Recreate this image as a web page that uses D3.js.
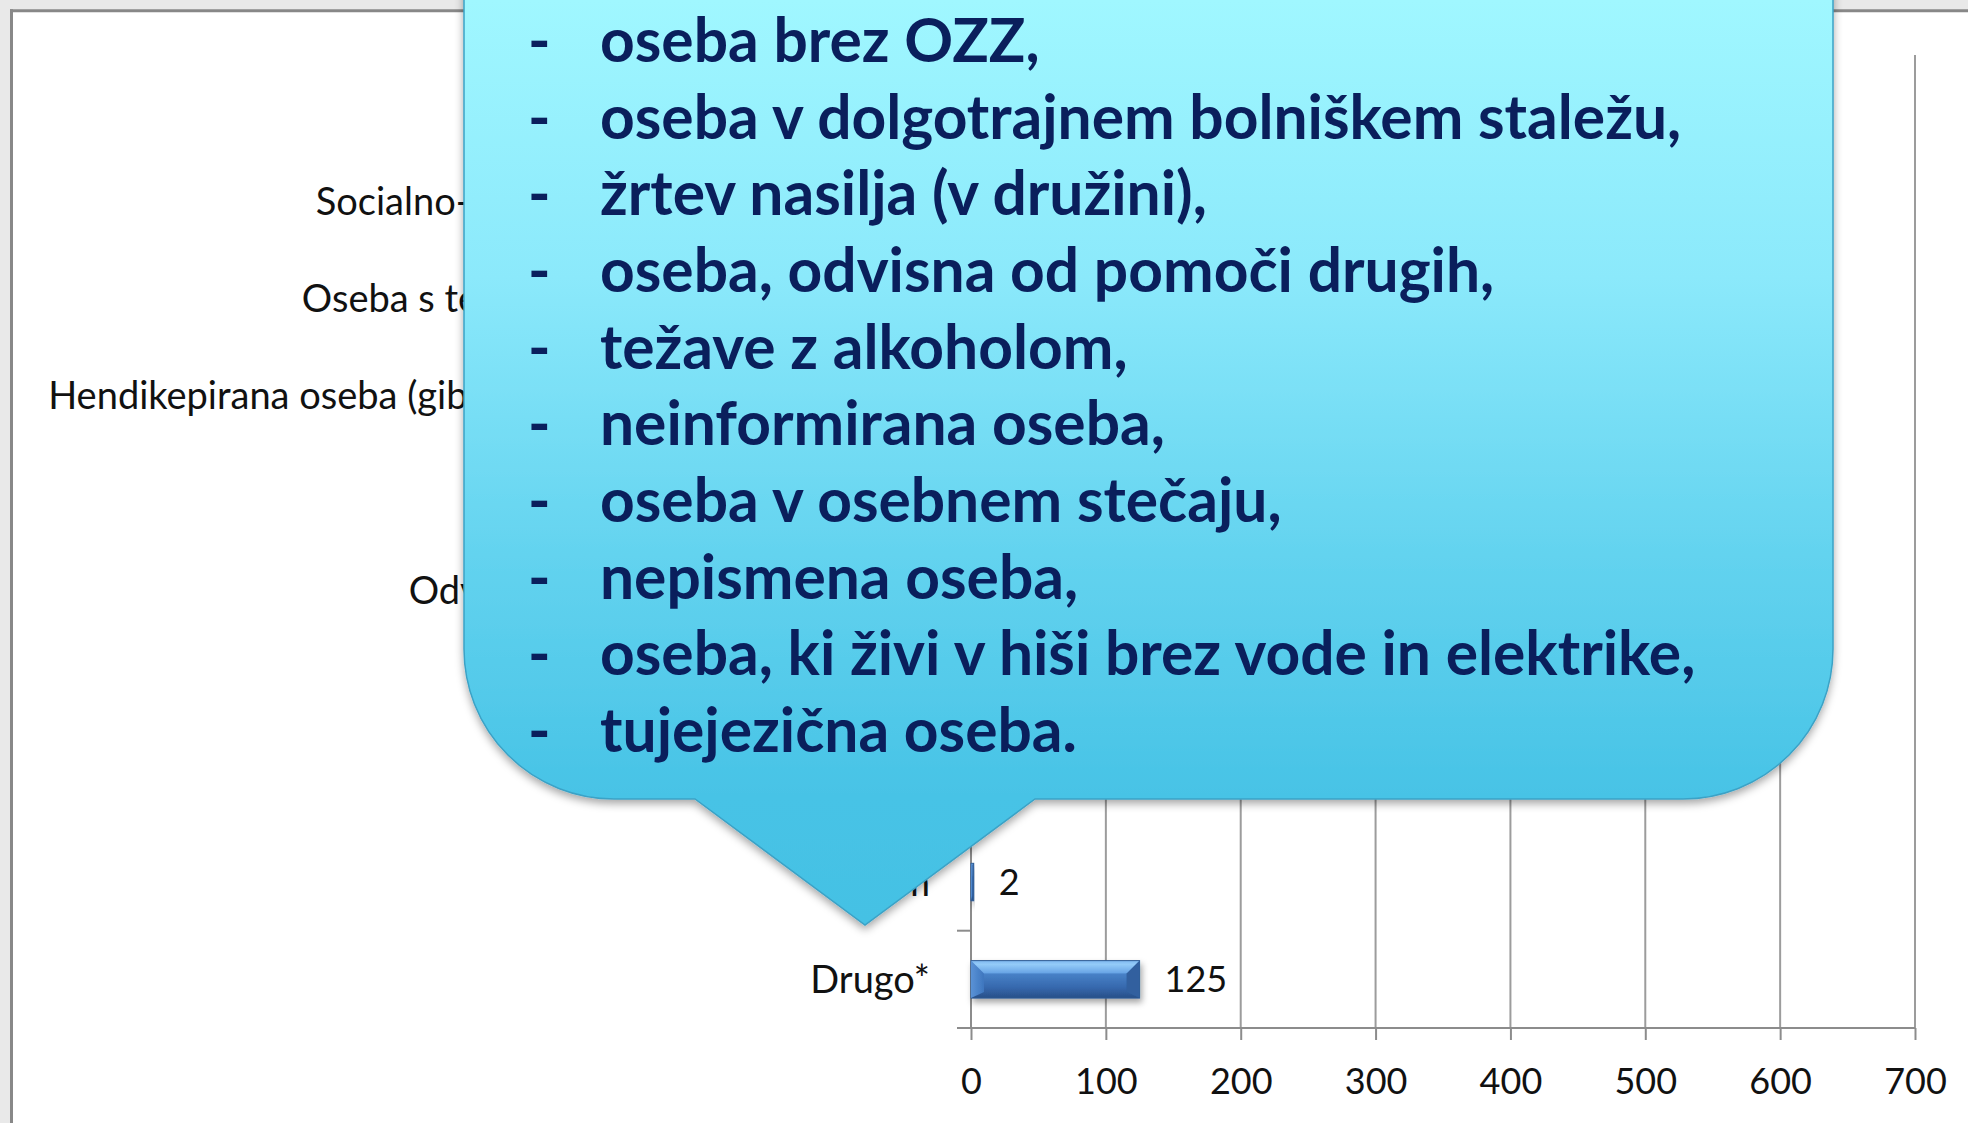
<!DOCTYPE html>
<html><head><meta charset="utf-8">
<script src="https://cdn.jsdelivr.net/npm/d3@7"></script>
<style>html,body{margin:0;padding:0;background:#fff;overflow:hidden}</style>
</head><body>
<svg id="c" width="1968" height="1123" xmlns="http://www.w3.org/2000/svg"></svg>
<script>
// ---- data ----
const categories = [
  "Brezposelna oseba",
  "Socialno-ekonomsko ogrožena oseba",
  "Oseba s težavami v duševnem zdravju",
  "Hendikepirana oseba (gibalno ovirana, slepa ali gluha)",
  "Starejša oseba",
  "Odvisnik od prepovedanih drog",
  "Enostarševska družina",
  "Brezdomec",
  "Rom",
  "Drugo*"
];
const values = [573, 412, 236, 148, 305, 57, 94, 21, 2, 125];
const xTicks = [0, 100, 200, 300, 400, 500, 600, 700];
const calloutLines = [
  "oseba brez OZZ,",
  "oseba v dolgotrajnem bolniškem staležu,",
  "žrtev nasilja (v družini),",
  "oseba, odvisna od pomoči drugih,",
  "težave z alkoholom,",
  "neinformirana oseba,",
  "oseba v osebnem stečaju,",
  "nepismena oseba,",
  "oseba, ki živi v hiši brez vode in elektrike,",
  "tujejezična oseba."
];

// ---- layout ----
const W = 1968, H = 1123;
const plot = {left: 971, right: 1915, top: 55, bottom: 1028};
const svg = d3.select("#c");
const defs = svg.append("defs");

// gradients & filters
const cg = defs.append("linearGradient").attr("id","calloutGrad")
  .attr("gradientUnits","userSpaceOnUse").attr("x1",0).attr("y1",0).attr("x2",0).attr("y2",925);
[[0,"#a0f7ff"],[0.3,"#8be9fb"],[0.6,"#63d3ef"],[0.86,"#47c3e6"],[1,"#44c1e4"]]
  .forEach(([o,c])=>cg.append("stop").attr("offset",o).attr("stop-color",c));

const bg = defs.append("linearGradient").attr("id","barGrad").attr("x1",0).attr("y1",0).attr("x2",0).attr("y2",1);
[[0,"#7fb8f0"],[0.1,"#94cbf8"],[0.32,"#6aa6e6"],[0.36,"#4781c7"],[0.72,"#3668ad"],[1,"#284f88"]]
  .forEach(([o,c])=>bg.append("stop").attr("offset",o).attr("stop-color",c));

const lg = defs.append("linearGradient").attr("id","leftGrad").attr("x1",0).attr("y1",0).attr("x2",1).attr("y2",0);
lg.append("stop").attr("offset",0).attr("stop-color","#5a92d6");
lg.append("stop").attr("offset",1).attr("stop-color","#3e76be");

const sh = defs.append("filter").attr("id","shadow").attr("x","-10%").attr("y","-10%").attr("width","130%").attr("height","140%");
sh.append("feDropShadow").attr("dx",0).attr("dy",4).attr("stdDeviation",4)
  .attr("flood-color","#000").attr("flood-opacity",0.35);
const bsh = defs.append("filter").attr("id","barShadow").attr("x","-10%").attr("y","-30%").attr("width","130%").attr("height","190%");
bsh.append("feDropShadow").attr("dx",2).attr("dy",4).attr("stdDeviation",3)
  .attr("flood-color","#000").attr("flood-opacity",0.35);

// frame
svg.append("rect").attr("x",0).attr("y",0).attr("width",W).attr("height",H).attr("fill","#e9e9e9");
svg.append("rect").attr("x",12).attr("y",12).attr("width",W-12).attr("height",H-12).attr("fill","#ffffff");
svg.append("line").attr("x1",10).attr("x2",W).attr("y1",10.8).attr("y2",10.8).attr("stroke","#888").attr("stroke-width",3);
svg.append("line").attr("x1",11.5).attr("x2",11.5).attr("y1",9.3).attr("y2",H).attr("stroke","#888").attr("stroke-width",3);

// scales
const x = d3.scaleLinear().domain([xTicks[0], xTicks[xTicks.length-1]]).range([plot.left, plot.right]);
const y = d3.scaleBand().domain(categories).range([plot.top, plot.bottom]).paddingInner(0.615).paddingOuter(0.3075);

const chart = svg.append("g").attr("font-family","Lato, 'Open Sans', sans-serif");

// gridlines
chart.append("g").selectAll("line").data(xTicks.slice(1)).join("line")
  .attr("x1",d=>x(d)).attr("x2",d=>x(d)).attr("y1",plot.top).attr("y2",plot.bottom)
  .attr("stroke","#9c9c9c").attr("stroke-width",2);

// x axis
const xAxis = chart.append("g").attr("transform",`translate(0,${plot.bottom})`)
  .call(d3.axisBottom(x).tickValues(xTicks).tickSize(12).tickPadding(28).tickSizeOuter(0));
xAxis.select(".domain").remove();
xAxis.selectAll(".tick line").attr("stroke","#8c8c8c").attr("stroke-width",2);
xAxis.selectAll(".tick text").attr("font-family","Lato, 'Open Sans', sans-serif").attr("font-size",36).attr("fill","#111");
chart.append("line").attr("x1",plot.left-14).attr("x2",plot.right).attr("y1",plot.bottom).attr("y2",plot.bottom)
  .attr("stroke","#8c8c8c").attr("stroke-width",2);

// y axis
const step = y.step();
const bounds = categories.map(c => y(c) - step*y.paddingInner()/2);
chart.append("line").attr("x1",plot.left).attr("x2",plot.left).attr("y1",plot.top).attr("y2",plot.bottom)
  .attr("stroke","#8c8c8c").attr("stroke-width",2);
chart.append("g").selectAll("line").data(bounds).join("line")
  .attr("x1",plot.left-14).attr("x2",plot.left).attr("y1",d=>d).attr("y2",d=>d)
  .attr("stroke","#8c8c8c").attr("stroke-width",2);

// category labels
chart.append("g").selectAll("text").data(categories).join("text")
  .attr("x",plot.left-41).attr("y",d=>y(d)+y.bandwidth()/2).attr("dy","0.36em")
  .attr("text-anchor","end").attr("font-size",38).attr("fill","#111").text(d=>d);

// bars
const data = categories.map((c,i)=>({cat:c, v:values[i]}));
const bars = chart.append("g").selectAll("g").data(data).join("g").attr("filter","url(#barShadow)");
bars.append("rect")
  .attr("x",x(0)).attr("y",d=>y(d.cat)).attr("width",d=>x(d.v)-x(0)).attr("height",y.bandwidth())
  .attr("fill","url(#barGrad)").attr("stroke","#2e5b94").attr("stroke-width",1);
bars.append("polygon").attr("points",d=>{
  const x0=x(0), x1=x(d.v), y0=y(d.cat), y1=y0+y.bandwidth();
  const b=Math.min(13,(x1-x0)/2);
  return [[x0,y0],[x0+b,y0+b],[x0+b,y1-6],[x0,y1]].join(" ");
}).attr("fill","url(#leftGrad)");
bars.append("polygon").attr("points",d=>{
  const x0=x(0), x1=x(d.v), y0=y(d.cat), y1=y0+y.bandwidth();
  const b=Math.min(13,(x1-x0)/2);
  return [[x1,y0],[x1-b,y0+b],[x1-b,y1-6],[x1,y1]].join(" ");
}).attr("fill","#30609f");

// data labels
chart.append("g").selectAll("text").data(data).join("text")
  .attr("x",d=>x(d.v)+25).attr("y",d=>y(d.cat)+y.bandwidth()/2).attr("dy","0.36em")
  .attr("font-size",36).attr("fill","#111").text(d=>d.v);

// ---- callout ----
const co = {left:464, right:1833, top:-30, bottom:799, r:150, pL:695, pR:1035, tipX:865, tipY:925};
const p = d3.path();
p.moveTo(co.left, co.top);
p.lineTo(co.right, co.top);
p.lineTo(co.right, co.bottom-co.r);
p.arcTo(co.right, co.bottom, co.right-co.r, co.bottom, co.r);
p.lineTo(co.pR, co.bottom);
p.lineTo(co.tipX, co.tipY);
p.lineTo(co.pL, co.bottom);
p.lineTo(co.left+co.r, co.bottom);
p.arcTo(co.left, co.bottom, co.left, co.bottom-co.r, co.r);
p.closePath();
svg.append("path").attr("d",p.toString()).attr("fill","url(#calloutGrad)")
  .attr("stroke","#3ba2c6").attr("stroke-width",1.5).attr("filter","url(#shadow)");

const tg = svg.append("g").attr("font-family","Lato, 'Open Sans', sans-serif").attr("font-weight",700)
  .attr("font-size",60.5).attr("fill","#0a1f5c");
tg.selectAll("text.dash").data(calloutLines).join("text").attr("class","dash")
  .attr("x",528).attr("y",(d,i)=>62+i*76.67).text("-");
tg.selectAll("text.item").data(calloutLines).join("text").attr("class","item")
  .attr("x",600).attr("y",(d,i)=>62+i*76.67).text(d=>d);
</script>
</body></html>
